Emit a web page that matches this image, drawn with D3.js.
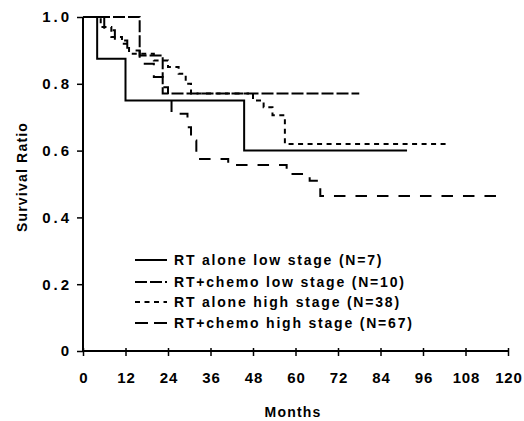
<!DOCTYPE html>
<html>
<head>
<meta charset="utf-8">
<script src="https://cdn.jsdelivr.net/npm/d3@7"></script>
<style>
  html, body { margin: 0; padding: 0; background: #fff; }
  svg { display: block; }
  text { font-family: "Liberation Sans", Arial, sans-serif; fill: #000; }
</style>
</head>
<body>
<div id="chart"></div>
<script>
// ---- data (months, survival ratio) ----
const seriesNames = [
  "RT alone low stage (N=7)",
  "RT+chemo low stage (N=10)",
  "RT alone high stage (N=38)",
  "RT+chemo high stage (N=67)"
];
const rtLowMonths   = [0, 4, 12, 45.5, 91.5];
const rtLowSurv     = [1.0, 0.875, 0.75, 0.6, 0.6];
const chemoLowMonths = [0, 16, 22.5, 78];
const chemoLowSurv   = [1.0, 0.885, 0.771, 0.771];
const rtHighMonths  = [0, 5, 8, 11, 13, 20, 24, 27, 29, 30.5, 48, 51, 53.5, 57, 103];
const rtHighSurv    = [1.0, 0.97, 0.94, 0.92, 0.89, 0.87, 0.85, 0.83, 0.80, 0.771, 0.75, 0.73, 0.706, 0.62, 0.62];
const chemoHighMonths = [0, 6, 9, 12.5, 16, 20, 22.5, 24, 25, 29.5, 30.5, 32, 41, 57.5, 64, 67, 117];
const chemoHighSurv   = [1.0, 0.96, 0.93, 0.90, 0.86, 0.82, 0.79, 0.755, 0.71, 0.67, 0.63, 0.575, 0.557, 0.53, 0.51, 0.464, 0.464];
const xTicks = [0, 12, 24, 36, 48, 60, 72, 84, 96, 108, 120];
const yTicks = [0, 0.2, 0.4, 0.6, 0.8, 1.0];
const yTickLabels = ["0", "0.2", "0.4", "0.6", "0.8", "1.0"];

const W = 524, H = 421;
const svg = d3.select("#chart").append("svg").attr("width", W).attr("height", H);

const x = d3.scaleLinear().domain([0, 120]).range([83, 508]);
const y = d3.scaleLinear().domain([0, 1]).range([351, 17]);

const dashStyles = ["none", "12 3", "5 4.5", "11.5 10"];
const curves = [
  [rtLowMonths, rtLowSurv],
  [chemoLowMonths, chemoLowSurv],
  [rtHighMonths, rtHighSurv],
  [chemoHighMonths, chemoHighSurv]
];

// axes
const xAxis = d3.axisBottom(x).tickValues(xTicks).tickSize(5).tickPadding(16).tickFormat(d3.format("d"));
const gx = svg.append("g").attr("transform", `translate(0,${y(0)})`).call(xAxis);
gx.select(".domain").attr("stroke", "#000").attr("stroke-width", 2).attr("d", `M${x(0)},0H${x(120)}`);
gx.selectAll(".tick line").attr("stroke", "#000").attr("stroke-width", 1.5).attr("y1", -3);
gx.selectAll(".tick text").attr("font-size", 15).attr("font-weight", "bold")
  .style("letter-spacing", "0.8px").attr("dx", "0.4px");

const yAxis = d3.axisLeft(y).tickValues(yTicks).tickSize(6).tickPadding(5)
  .tickFormat((d, i) => yTickLabels[i]);
const gy = svg.append("g").attr("transform", `translate(${x(0)},0)`).call(yAxis);
gy.select(".domain").attr("stroke", "#000").attr("stroke-width", 2).attr("d", `M0,${y(0)}V${y(1)}`);
gy.selectAll(".tick line").attr("stroke", "#000").attr("stroke-width", 1.5);
gy.selectAll(".tick text").attr("font-size", 15).attr("font-weight", "bold").style("letter-spacing", "3px");

// axis titles
svg.append("text").attr("x", 293).attr("y", 417).attr("text-anchor", "middle")
  .attr("font-size", 14).attr("font-weight", "bold").style("letter-spacing", "1.2px").text("Months");
svg.append("text").attr("transform", `translate(27,177) rotate(-90)`).attr("text-anchor", "middle")
  .attr("font-size", 14).attr("font-weight", "bold").style("letter-spacing", "1.2px").text("Survival Ratio");

// curves
const line = d3.line().x(d => x(d[0])).y(d => y(d[1])).curve(d3.curveStepAfter);
curves.forEach((c, i) => {
  const pts = c[0].map((m, j) => [m, c[1][j]]);
  svg.append("path").attr("d", line(pts)).attr("fill", "none").attr("stroke", "#000")
    .attr("stroke-width", 2).attr("stroke-dasharray", dashStyles[i]);
});

// legend
const legRows = [260, 282, 302, 323];
seriesNames.forEach((name, i) => {
  svg.append("line").attr("x1", 135).attr("x2", 167).attr("y1", legRows[i]).attr("y2", legRows[i])
    .attr("stroke", "#000").attr("stroke-width", 2)
    .attr("stroke-dasharray", i === 3 ? "13 6" : dashStyles[i]);
  svg.append("text").attr("x", 174).attr("y", legRows[i] + 5)
    .attr("font-size", 14).attr("font-weight", "bold").style("letter-spacing", "1.8px").text(name);
});
</script>
</body>
</html>
